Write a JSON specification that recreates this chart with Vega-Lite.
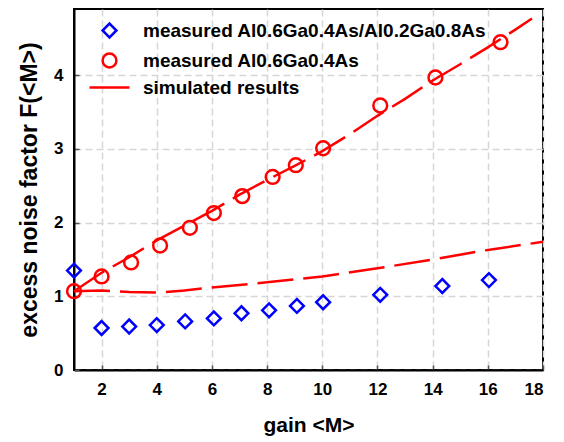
{
  "$schema": "https://vega.github.io/schema/vega-lite/v6.json",
  "width": 469,
  "height": 361,
  "autosize": {"type": "none"},
  "padding": {"left": 74, "top": 9, "right": 21, "bottom": 72},
  "config": {
    "font": "Liberation Sans",
    "view": {"stroke": "black", "strokeWidth": 2},
    "axis": {
      "domainColor": "black",
      "domainWidth": 2,
      "grid": true,
      "gridColor": "#d6d6d6",
      "gridDash": [7, 4],
      "gridWidth": 1.5,
      "tickColor": "#555555",
      "tickSize": -5,
      "tickWidth": 1.5,
      "labelFont": "Liberation Sans",
      "labelFontSize": 17,
      "labelFontWeight": "bold",
      "labelColor": "black",
      "titleFont": "Liberation Sans",
      "titleFontSize": 21,
      "titleFontWeight": "bold",
      "titleColor": "black"
    },
    "legend": {
      "labelFont": "Liberation Sans",
      "labelFontSize": 19,
      "labelFontWeight": "bold",
      "labelColor": "black",
      "labelLimit": 600,
      "symbolSize": 190,
      "symbolStrokeWidth": 2.5,
      "rowPadding": 5,
      "labelOffset": 24
    }
  },
  "data": {
    "values": [
      {"kind": "point", "series": "measured Al0.6Ga0.4As/Al0.2Ga0.8As", "curve": "b", "x": 1, "y": 1.35},
      {"kind": "point", "series": "measured Al0.6Ga0.4As/Al0.2Ga0.8As", "curve": "b", "x": 2, "y": 0.57},
      {"kind": "point", "series": "measured Al0.6Ga0.4As/Al0.2Ga0.8As", "curve": "b", "x": 3, "y": 0.59},
      {"kind": "point", "series": "measured Al0.6Ga0.4As/Al0.2Ga0.8As", "curve": "b", "x": 4, "y": 0.61},
      {"kind": "point", "series": "measured Al0.6Ga0.4As/Al0.2Ga0.8As", "curve": "b", "x": 5.03, "y": 0.66},
      {"kind": "point", "series": "measured Al0.6Ga0.4As/Al0.2Ga0.8As", "curve": "b", "x": 6.07, "y": 0.7},
      {"kind": "point", "series": "measured Al0.6Ga0.4As/Al0.2Ga0.8As", "curve": "b", "x": 7.07, "y": 0.77},
      {"kind": "point", "series": "measured Al0.6Ga0.4As/Al0.2Ga0.8As", "curve": "b", "x": 8.07, "y": 0.81},
      {"kind": "point", "series": "measured Al0.6Ga0.4As/Al0.2Ga0.8As", "curve": "b", "x": 9.08, "y": 0.87},
      {"kind": "point", "series": "measured Al0.6Ga0.4As/Al0.2Ga0.8As", "curve": "b", "x": 10.03, "y": 0.92},
      {"kind": "point", "series": "measured Al0.6Ga0.4As/Al0.2Ga0.8As", "curve": "b", "x": 12.1, "y": 1.02},
      {"kind": "point", "series": "measured Al0.6Ga0.4As/Al0.2Ga0.8As", "curve": "b", "x": 14.35, "y": 1.14},
      {"kind": "point", "series": "measured Al0.6Ga0.4As/Al0.2Ga0.8As", "curve": "b", "x": 16.04, "y": 1.22},
      {"kind": "point", "series": "measured Al0.6Ga0.4As", "curve": "r", "x": 1, "y": 1.07},
      {"kind": "point", "series": "measured Al0.6Ga0.4As", "curve": "r", "x": 2, "y": 1.27},
      {"kind": "point", "series": "measured Al0.6Ga0.4As", "curve": "r", "x": 3.07, "y": 1.46},
      {"kind": "point", "series": "measured Al0.6Ga0.4As", "curve": "r", "x": 4.12, "y": 1.69},
      {"kind": "point", "series": "measured Al0.6Ga0.4As", "curve": "r", "x": 5.2, "y": 1.93},
      {"kind": "point", "series": "measured Al0.6Ga0.4As", "curve": "r", "x": 6.07, "y": 2.13},
      {"kind": "point", "series": "measured Al0.6Ga0.4As", "curve": "r", "x": 7.1, "y": 2.36},
      {"kind": "point", "series": "measured Al0.6Ga0.4As", "curve": "r", "x": 8.2, "y": 2.62},
      {"kind": "point", "series": "measured Al0.6Ga0.4As", "curve": "r", "x": 9.04, "y": 2.78},
      {"kind": "point", "series": "measured Al0.6Ga0.4As", "curve": "r", "x": 10.03, "y": 3.01},
      {"kind": "point", "series": "measured Al0.6Ga0.4As", "curve": "r", "x": 12.1, "y": 3.59},
      {"kind": "point", "series": "measured Al0.6Ga0.4As", "curve": "r", "x": 14.1, "y": 3.97},
      {"kind": "point", "series": "measured Al0.6Ga0.4As", "curve": "r", "x": 16.46, "y": 4.45},
      {"kind": "line", "series": "simulated results", "curve": "upper", "x": 1, "y": 1.07},
      {"kind": "line", "series": "simulated results", "curve": "upper", "x": 2, "y": 1.32},
      {"kind": "line", "series": "simulated results", "curve": "upper", "x": 3, "y": 1.53},
      {"kind": "line", "series": "simulated results", "curve": "upper", "x": 4, "y": 1.76},
      {"kind": "line", "series": "simulated results", "curve": "upper", "x": 5, "y": 1.96},
      {"kind": "line", "series": "simulated results", "curve": "upper", "x": 6, "y": 2.16},
      {"kind": "line", "series": "simulated results", "curve": "upper", "x": 7, "y": 2.38},
      {"kind": "line", "series": "simulated results", "curve": "upper", "x": 8, "y": 2.58},
      {"kind": "line", "series": "simulated results", "curve": "upper", "x": 9, "y": 2.77},
      {"kind": "line", "series": "simulated results", "curve": "upper", "x": 10, "y": 2.97},
      {"kind": "line", "series": "simulated results", "curve": "upper", "x": 11, "y": 3.2},
      {"kind": "line", "series": "simulated results", "curve": "upper", "x": 12, "y": 3.45},
      {"kind": "line", "series": "simulated results", "curve": "upper", "x": 13, "y": 3.68},
      {"kind": "line", "series": "simulated results", "curve": "upper", "x": 14, "y": 3.93},
      {"kind": "line", "series": "simulated results", "curve": "upper", "x": 15, "y": 4.15},
      {"kind": "line", "series": "simulated results", "curve": "upper", "x": 16, "y": 4.38},
      {"kind": "line", "series": "simulated results", "curve": "upper", "x": 17, "y": 4.62},
      {"kind": "line", "series": "simulated results", "curve": "upper", "x": 17.6, "y": 4.77},
      {"kind": "line", "series": "simulated results", "curve": "lower", "x": 1, "y": 1.07},
      {"kind": "line", "series": "simulated results", "curve": "lower", "x": 2, "y": 1.08},
      {"kind": "line", "series": "simulated results", "curve": "lower", "x": 3, "y": 1.06},
      {"kind": "line", "series": "simulated results", "curve": "lower", "x": 4, "y": 1.05},
      {"kind": "line", "series": "simulated results", "curve": "lower", "x": 5, "y": 1.08},
      {"kind": "line", "series": "simulated results", "curve": "lower", "x": 6, "y": 1.12},
      {"kind": "line", "series": "simulated results", "curve": "lower", "x": 8, "y": 1.19},
      {"kind": "line", "series": "simulated results", "curve": "lower", "x": 10, "y": 1.27},
      {"kind": "line", "series": "simulated results", "curve": "lower", "x": 12, "y": 1.38},
      {"kind": "line", "series": "simulated results", "curve": "lower", "x": 14, "y": 1.5},
      {"kind": "line", "series": "simulated results", "curve": "lower", "x": 16, "y": 1.63},
      {"kind": "line", "series": "simulated results", "curve": "lower", "x": 18, "y": 1.74}
    ]
  },
  "encoding": {
    "x": {
      "field": "x",
      "type": "quantitative",
      "scale": {"domain": [1, 18], "nice": false, "zero": false},
      "axis": {"values": [2, 4, 6, 8, 10, 12, 14, 16, 18], "title": "gain <M>", "labelPadding": 16, "titlePadding": 17}
    },
    "y": {
      "field": "y",
      "type": "quantitative",
      "scale": {"domain": [0, 4.9], "nice": false},
      "axis": {"values": [0, 1, 2, 3, 4], "format": "d", "title": "excess noise factor F(<M>)", "titleFontSize": 23, "labelPadding": 16, "titlePadding": 12}
    },
    "color": {
      "field": "series",
      "type": "nominal",
      "scale": {
        "domain": ["measured Al0.6Ga0.4As/Al0.2Ga0.8As", "measured Al0.6Ga0.4As", "simulated results"],
        "range": ["#0000ff", "#ff0000", "#ff0000"]
      },
      "legend": {"title": null, "orient": "none", "legendX": 26, "legendY": 12}
    }
  },
  "layer": [
    {
      "transform": [{"filter": "datum.kind === 'line'"}],
      "mark": {"type": "line", "strokeWidth": 2.5, "strokeDash": [36, 10]},
      "encoding": {"detail": {"field": "curve", "type": "nominal"}}
    },
    {
      "transform": [{"filter": "datum.kind === 'point'"}],
      "mark": {"type": "point", "filled": false, "size": 190, "strokeWidth": 2.5, "opacity": 1},
      "encoding": {
        "shape": {
          "field": "series",
          "type": "nominal",
          "scale": {
            "domain": ["measured Al0.6Ga0.4As/Al0.2Ga0.8As", "measured Al0.6Ga0.4As", "simulated results"],
            "range": ["diamond", "circle", "M-2.9,0H2.9"]
          },
          "legend": {"title": null, "orient": "none", "legendX": 26, "legendY": 12}
        }
      }
    }
  ]
}
